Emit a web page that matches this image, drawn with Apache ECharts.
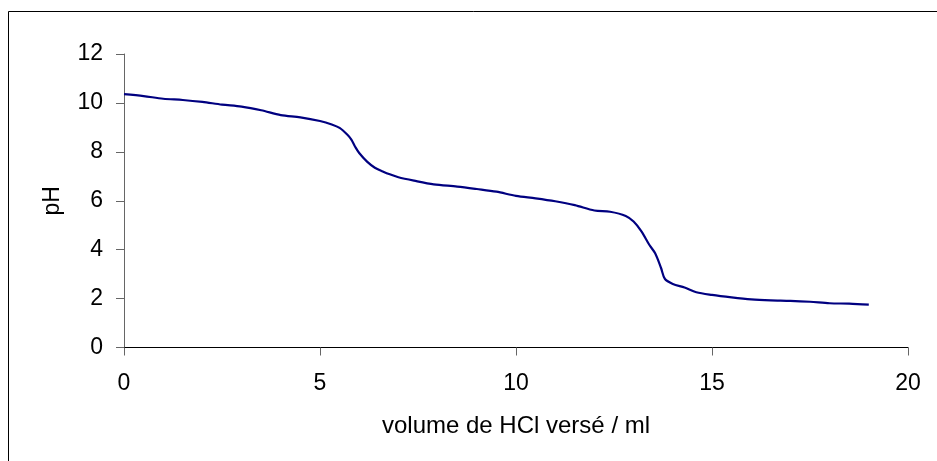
<!DOCTYPE html>
<html>
<head>
<meta charset="utf-8">
<script src="https://cdn.jsdelivr.net/npm/echarts@6/dist/echarts.min.js"></script>
<style>html,body{margin:0;padding:0;background:#fff}#c{width:937px;height:461px}</style>
</head>
<body>
<div id="c"></div>
<script>
const volume = [0,0.5,1,1.5,2,2.5,3,3.5,4,4.5,5,5.3,5.5,5.7,5.8,5.9,6.0,6.2,6.4,6.6,6.8,7.0,7.4,7.9,8.5,9.0,9.5,10,10.5,11,11.5,12,12.4,12.8,13.0,13.2,13.4,13.55,13.7,13.8,14.0,14.3,14.6,15,15.5,16,16.5,17,17.5,18,18.5,19];
const pH = [10.36,10.28,10.17,10.12,10.04,9.93,9.85,9.7,9.5,9.41,9.26,9.12,8.98,8.7,8.5,8.2,7.95,7.6,7.35,7.2,7.07,6.96,6.82,6.67,6.58,6.48,6.37,6.2,6.1,5.98,5.82,5.6,5.55,5.38,5.15,4.75,4.2,3.85,3.25,2.8,2.6,2.45,2.26,2.15,2.05,1.97,1.93,1.91,1.87,1.81,1.79,1.75];
const xTitle = 'volume de HCl versé / ml';
const yTitle = 'pH';

const chart = echarts.init(document.getElementById('c'));
const font = 'Liberation Sans, Arial, sans-serif';
chart.setOption({
  animation: false,
  backgroundColor: '#fff',
  graphic: [{type:'rect', shape:{x:8.5, y:11.5, width:1000, height:1000}, style:{fill:'none', stroke:'#000', lineWidth:1}, silent:true}],
  grid: {left:124, right:29, top:54, bottom:113.5, containLabel:false},
  xAxis: {
    type:'value', min:0, max:20, interval:5,
    name:xTitle, nameLocation:'middle', nameGap:67,
    nameTextStyle:{fontFamily:font, fontSize:24, color:'#000'},
    axisLine:{show:true, onZero:false, lineStyle:{color:'#000', width:1}},
    axisTick:{show:true, inside:false, length:8, lineStyle:{color:'#666'}},
    axisLabel:{fontFamily:font, fontSize:23, color:'#000', margin:25},
    splitLine:{show:false}
  },
  yAxis: {
    type:'value', min:0, max:12, interval:2,
    name:yTitle, nameLocation:'middle', nameGap:60, nameRotate:90,
    nameTextStyle:{fontFamily:font, fontSize:23, color:'#000'},
    axisLine:{show:true, lineStyle:{color:'#666', width:1}},
    axisTick:{show:true, inside:false, length:8, lineStyle:{color:'#666'}},
    axisLabel:{fontFamily:font, fontSize:23, color:'#000', margin:21},
    splitLine:{show:false}
  },
  series: [{
    type:'line', data: volume.map((v,i)=>[v,pH[i]]),
    showSymbol:false, smooth:0.3,
    lineStyle:{color:'#000080', width:2.2}
  }]
});
</script>
</body>
</html>
